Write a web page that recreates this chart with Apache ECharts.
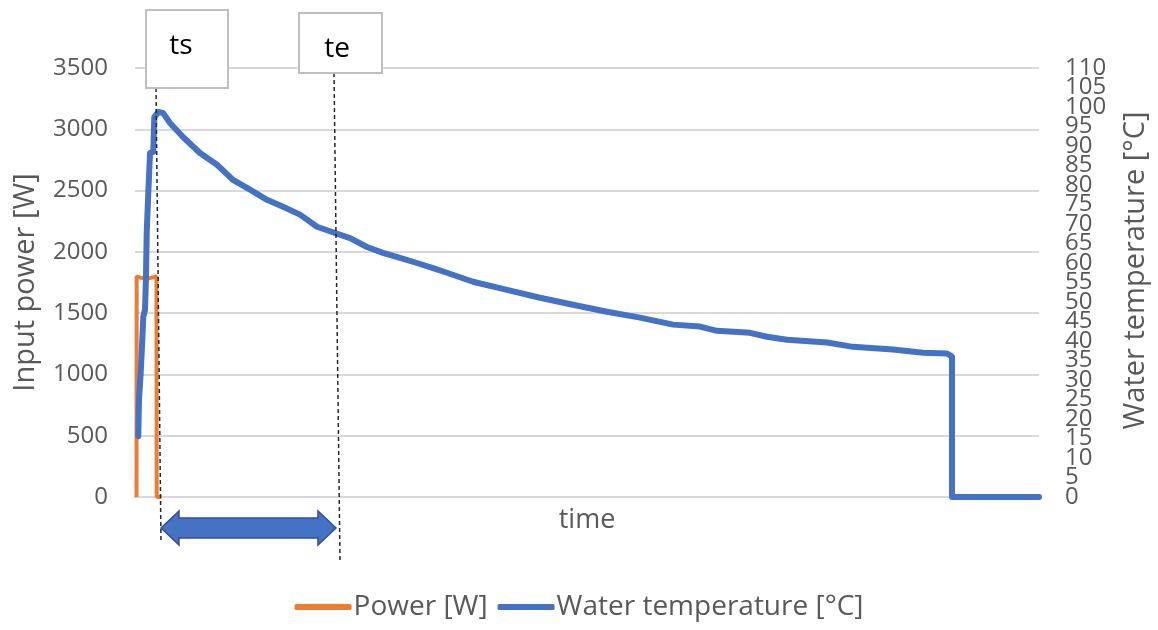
<!DOCTYPE html>
<html>
<head>
<meta charset="utf-8">
<script src="https://cdn.jsdelivr.net/npm/echarts@6/dist/echarts.min.js"></script>
<style>
html,body{margin:0;padding:0;background:#fff;}
#chart{width:1158px;height:630px;}
</style>
</head>
<body>
<div id="chart"></div>
<script>
// ---- data (time in arbitrary units) ----
const powerTime   = [1.5, 1.7, 5, 12, 21.5, 21.7, 26.5];
const powerValues = [0, 1800, 1790, 1780, 1800, 0, 0];

const tempTime   = [3.3, 4, 5.7, 6.7, 8.3, 10, 11, 11.7, 13.3, 15, 18.3, 19.3, 23.3, 28, 35, 48, 65, 82, 98, 115, 132, 148, 165, 182, 200, 215, 232, 248, 265, 282, 298, 312, 338, 372, 405, 438, 472, 505, 538, 565, 582, 615, 632, 652, 692, 718, 758, 788, 812, 817, 817, 904];
const tempValues = [15.6, 25, 31.9, 37, 46.2, 48, 56.5, 67.7, 78, 88.2, 88.5, 97.4, 98.7, 98.5, 95.9, 92.3, 88.2, 85.2, 81.3, 78.8, 76.2, 74.4, 72.4, 69.3, 67.7, 66.4, 64.1, 62.6, 61.3, 60.0, 58.7, 57.5, 55.2, 53.1, 51.1, 49.3, 47.5, 46.0, 44.2, 43.7, 42.6, 42.1, 41.1, 40.3, 39.6, 38.5, 37.8, 37.0, 36.8, 36.0, 0, 0];

const timeMax = 904;
const tsTime = 23;   // start marker
const teTime = 202;  // end marker
const tsLabel = 'ts';
const teLabel = 'te';

const powerName = 'Power [W]';
const tempName = 'Water temperature [°C]';

const FONT = 'Open Sans';
const GREY = '#595959';

const chart = echarts.init(document.getElementById('chart'));

const rightLabelBase = { color: GREY, fontSize: 24, margin: 26, lineHeight: 18, fontFamily: FONT };

const option = {
  animation: false,
  backgroundColor: '#fff',
  textStyle: { fontFamily: FONT },
  grid: { left: 135, right: 119, top: 68, bottom: 133, containLabel: false },
  legend: {
    bottom: 4,
    left: 'center',
    itemWidth: 57,
    itemHeight: 6,
    itemGap: 10,
    icon: 'roundRect',
    textStyle: { color: GREY, fontSize: 28, fontFamily: FONT, padding: [0, 0, 0, -3] },
    data: [powerName, tempName]
  },
  xAxis: {
    type: 'value',
    min: 0,
    max: timeMax,
    name: 'time',
    nameLocation: 'middle',
    nameGap: 10,
    nameTextStyle: { color: GREY, fontSize: 27, fontFamily: FONT },
    axisLine: { show: true, lineStyle: { color: '#D9D9D9', width: 2 } },
    axisTick: { show: false },
    axisLabel: { show: false },
    splitLine: { show: false }
  },
  yAxis: [
    {
      type: 'value',
      min: 0, max: 3500, interval: 500,
      name: 'Input power [W]',
      nameLocation: 'middle',
      nameRotate: 90,
      nameGap: 95,
      nameTextStyle: { color: GREY, fontSize: 29, fontFamily: FONT },
      axisLine: { show: false },
      axisTick: { show: false },
      axisLabel: { color: GREY, fontSize: 24, margin: 27, fontFamily: FONT, formatter: v => String(v) },
      splitLine: { show: true, lineStyle: { color: '#D9D9D9', width: 2 } }
    },
    {
      // temperature axis: labels at multiples of 10
      type: 'value',
      position: 'right',
      min: 0, max: 110, interval: 10,
      name: tempName,
      nameLocation: 'middle',
      nameRotate: 90,
      nameGap: 82,
      nameTextStyle: { color: GREY, fontSize: 29, fontFamily: FONT, padding: [0, 0, 0, 24] },
      axisLine: { show: false },
      axisTick: { show: false },
      axisLabel: Object.assign({}, rightLabelBase, { showMinLabel: true, showMaxLabel: true, formatter: v => String(v) }),
      splitLine: { show: false }
    },
    {
      // same temperature scale: in-between labels (5, 15, ... 105)
      type: 'value',
      position: 'right',
      min: 0, max: 110, interval: 5,
      axisLine: { show: false },
      axisTick: { show: false },
      axisLabel: Object.assign({}, rightLabelBase, { formatter: v => (v % 10 === 5 ? String(v) : '') }),
      splitLine: { show: false }
    }
  ],
  series: [
    {
      name: powerName,
      type: 'line',
      yAxisIndex: 0,
      showSymbol: false,
      symbol: 'none',
      color: '#ED7D31',
      lineStyle: { color: '#ED7D31', width: 4 },
      data: powerTime.map((t, i) => [t, powerValues[i]]),
      z: 2
    },
    {
      name: tempName,
      type: 'line',
      yAxisIndex: 1,
      showSymbol: false,
      symbol: 'none',
      color: '#4472C4',
      lineStyle: { color: '#4472C4', width: 6, join: 'round', cap: 'round' },
      data: tempTime.map((t, i) => [t, tempValues[i]]),
      z: 3
    }
  ]
};

chart.setOption(option);

// annotations anchored to the time axis
const xs = chart.convertToPixel({ xAxisIndex: 0 }, tsTime);
const xe = chart.convertToPixel({ xAxisIndex: 0 }, teTime);
const dashStyle = { stroke: '#262626', lineWidth: 1.5, lineDash: [4, 3] };
const boxStyle = { fill: '#fff', stroke: '#BFBFBF', lineWidth: 2 };
const arrowY = 528;
const a0 = xs + 3, a1 = xe - 1, head = 18;
chart.setOption({
  graphic: [
    { type: 'line', z: 10, shape: { x1: xs - 2, y1: 88, x2: xs + 3, y2: 542 }, style: dashStyle },
    { type: 'line', z: 10, shape: { x1: xe - 3, y1: 73, x2: xe + 3, y2: 560 }, style: dashStyle },
    { type: 'rect', z: 11, shape: { x: xs - 12, y: 10, width: 82, height: 78 }, style: boxStyle },
    { type: 'text', z: 12, style: { x: xs + 23, y: 46, text: tsLabel, fill: '#000', font: '28px "' + FONT + '"', align: 'center', verticalAlign: 'middle' } },
    { type: 'rect', z: 11, shape: { x: xe - 38, y: 13, width: 83, height: 60 }, style: boxStyle },
    { type: 'text', z: 12, style: { x: xe, y: 49, text: teLabel, fill: '#000', font: '28px "' + FONT + '"', align: 'center', verticalAlign: 'middle' } },
    { type: 'polygon', z: 12, shape: { points: [
        [a0, arrowY], [a0 + head, arrowY - 17], [a0 + head, arrowY - 10],
        [a1 - head, arrowY - 10], [a1 - head, arrowY - 17], [a1, arrowY],
        [a1 - head, arrowY + 17], [a1 - head, arrowY + 10], [a0 + head, arrowY + 10],
        [a0 + head, arrowY + 17]
      ] }, style: { fill: '#4472C4', stroke: '#2F528F', lineWidth: 1.5 } }
  ]
});
</script>
</body>
</html>
